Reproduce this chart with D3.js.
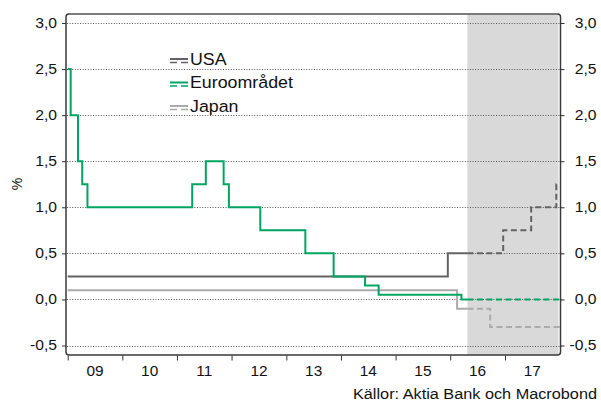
<!DOCTYPE html>
<html>
<head>
<meta charset="utf-8">
<script src="https://cdn.jsdelivr.net/npm/d3@7"></script>
<style>
  html, body { margin: 0; padding: 0; background: #fff; }
  svg { display: block; font-family: "Liberation Sans", Arial, sans-serif; }
</style>
</head>
<body>
<svg id="chart" width="601" height="403"></svg>
<script>
// Policy rates (%), step series: date of each change and the new level
const usaDates   = ["2009-01-01", "2015-12-16", "2016-12-20", "2017-06-25", "2017-12-10"];
const usaValues  = [0.25, 0.5, 0.75, 1.0, 1.25];

const euroDates  = ["2009-01-01", "2009-01-21", "2009-03-11", "2009-04-08", "2009-05-13",
                    "2011-04-13", "2011-07-13", "2011-11-09", "2011-12-14", "2012-07-11",
                    "2013-05-08", "2013-11-13", "2014-06-11", "2014-09-10", "2016-03-16"];
const euroValues = [2.5, 2.0, 1.5, 1.25, 1.0, 1.25, 1.5, 1.25, 1.0, 0.75, 0.5, 0.25, 0.15, 0.05, 0.0];

const japanDates  = ["2009-01-01", "2016-02-16", "2016-09-24"];
const japanValues = [0.1, -0.1, -0.3];

const seriesNames  = ["USA", "Euroområdet", "Japan"];
const seriesColors = ["#636363", "#00a562", "#ababab"];

const forecastStart = "2016-04-25";
const endDate       = "2017-12-31";

const yearTicks  = [2009, 2010, 2011, 2012, 2013, 2014, 2015, 2016, 2017];
const yearLabels = ["09", "10", "11", "12", "13", "14", "15", "16", "17"];
const yTicks     = [-0.5, 0, 0.5, 1.0, 1.5, 2.0, 2.5, 3.0];
const yLabels    = ["-0,5", "0,0", "0,5", "1,0", "1,5", "2,0", "2,5", "3,0"];

const sourceText = "Källor: Aktia Bank och Macrobond";
const unitLabel  = "%";

// ---- layout
const plot = { left: 66, right: 560.5, top: 14, bottom: 355 };
const parse = d3.utcParse("%Y-%m-%d");

const x = d3.scaleUtc()
  .domain([new Date(Date.UTC(2009, 0, 1)), new Date(Date.UTC(2018, 0, 1))])
  .range([67.7, 559.6]);
const y = d3.scaleLinear().domain([-0.5, 3.0]).range([345.5, 23]);

const svg = d3.select("#chart");

// widen text horizontally around its anchor point (x, y attributes)
function widen(sel, k) {
  sel.each(function () {
    const t = d3.select(this);
    const ax = +t.attr("x") || 0, ay = +t.attr("y") || 0;
    const prev = t.attr("transform") || "";
    t.attr("transform", `${prev} translate(${ax},${ay}) scale(${k},1) translate(${-ax},${-ay})`);
  });
}

// forecast shading
const xF = x(parse(forecastStart));
svg.append("rect")
  .attr("x", xF).attr("y", plot.top)
  .attr("width", 558.5 - xF).attr("height", plot.bottom - plot.top)
  .attr("fill", "#d9d9d9");

// dotted gridlines
svg.append("g").selectAll("line").data(yTicks).join("line")
  .attr("x1", plot.left + 1).attr("x2", plot.right + 1)
  .attr("y1", d => Math.round(y(d)) + 0.5).attr("y2", d => Math.round(y(d)) + 0.5)
  .attr("stroke", "#555").attr("stroke-width", 1)
  .attr("stroke-dasharray", "1,1.6");

// split a step series into the historical (solid) and forecast (dashed) parts
function buildSeries(dates, values) {
  const pts = dates.map((d, i) => ({ t: parse(d), v: values[i] }));
  const f = parse(forecastStart), e = parse(endDate);
  const hist = pts.filter(p => p.t < f);
  const lastHist = hist[hist.length - 1].v;
  hist.push({ t: f, v: lastHist });
  const fut = [{ t: f, v: lastHist }].concat(pts.filter(p => p.t >= f));
  fut.push({ t: e, v: fut[fut.length - 1].v });
  return { hist, fut };
}

const line = d3.line()
  .x(d => x(d.t)).y(d => y(d.v))
  .curve(d3.curveStepAfter);

const series = [
  buildSeries(usaDates, usaValues),
  buildSeries(euroDates, euroValues),
  buildSeries(japanDates, japanValues)
];

// draw Japan first, then USA, then euro area on top
[2, 0, 1].forEach(i => {
  const s = series[i];
  svg.append("path").datum(s.hist)
    .attr("d", line).attr("fill", "none")
    .attr("stroke", seriesColors[i]).attr("stroke-width", 2);
  svg.append("path").datum(s.fut)
    .attr("d", line).attr("fill", "none")
    .attr("stroke", seriesColors[i]).attr("stroke-width", 2)
    .attr("stroke-dasharray", "6,3.5");
});

// frame with rounded corners
const r = 3;
svg.append("path")
  .attr("d", `M${plot.left},${plot.top + r} Q${plot.left},${plot.top} ${plot.left + r},${plot.top}
              L${plot.right - r},${plot.top} Q${plot.right},${plot.top} ${plot.right},${plot.top + r}
              L${plot.right},${plot.bottom - r} Q${plot.right},${plot.bottom} ${plot.right - r},${plot.bottom}
              L${plot.left + r},${plot.bottom} Q${plot.left},${plot.bottom} ${plot.left},${plot.bottom - r} Z`)
  .attr("fill", "none").attr("stroke", "#3a3a3a").attr("stroke-width", 1.5);
// lighter top and left edges
svg.append("line")
  .attr("x1", plot.left + r).attr("x2", plot.right - r)
  .attr("y1", plot.top).attr("y2", plot.top)
  .attr("stroke", "#7a7a7a").attr("stroke-width", 2);
svg.append("line")
  .attr("x1", plot.left).attr("x2", plot.left)
  .attr("y1", plot.top + r).attr("y2", plot.bottom - r)
  .attr("stroke", "#6a6a6a").attr("stroke-width", 2);

// left y axis
const yAxisL = d3.axisLeft(y).tickValues(yTicks)
  .tickSize(4).tickPadding(5)
  .tickFormat((d, i) => yLabels[i]);
const gL = svg.append("g").attr("transform", `translate(${plot.left},0)`).call(yAxisL);
gL.select(".domain").remove();
gL.selectAll(".tick line").attr("stroke", "#333");
gL.selectAll(".tick text").attr("font-size", 14).attr("fill", "#111")
  .attr("font-family", "'Liberation Sans', Arial, sans-serif");
widen(gL.selectAll(".tick text"), 1.12);

// right y axis
const yAxisR = d3.axisRight(y).tickValues(yTicks)
  .tickSize(4).tickPadding(0)
  .tickFormat((d, i) => yLabels[i]);
const gR = svg.append("g").attr("transform", `translate(${plot.right},0)`).call(yAxisR);
gR.select(".domain").remove();
gR.selectAll(".tick line").attr("stroke", "#333");
gR.selectAll(".tick text").attr("font-size", 14).attr("fill", "#111")
  .attr("text-anchor", "end").attr("x", 36)
  .attr("font-family", "'Liberation Sans', Arial, sans-serif");
widen(gR.selectAll(".tick text"), 1.12);

// x axis: year ticks with labels centred in each year
const xAxis = d3.axisBottom(x)
  .tickValues(yearTicks.map(yr => new Date(Date.UTC(yr, 0, 1))))
  .tickSize(5).tickFormat("");
const gX = svg.append("g").attr("transform", `translate(0,${plot.bottom + 0.5})`).call(xAxis);
gX.select(".domain").remove();
gX.selectAll(".tick line").attr("stroke", "#333");
const xLab = svg.append("g").selectAll("text").data(yearTicks).join("text")
  .attr("x", d => (x(new Date(Date.UTC(d, 0, 1))) + x(new Date(Date.UTC(d + 1, 0, 1)))) / 2)
  .attr("y", 376.5)
  .attr("text-anchor", "middle")
  .attr("font-size", 14).attr("fill", "#111")
  .text((d, i) => yearLabels[i]);
widen(xLab, 1.1);

// unit label
svg.append("text")
  .attr("transform", "translate(22,184) rotate(-90)")
  .attr("text-anchor", "middle")
  .attr("font-size", 14).attr("fill", "#111")
  .text(unitLabel);

// legend
const legend = svg.append("g");
seriesNames.forEach((name, i) => {
  const base = 65 + i * 23.5;
  legend.append("line")
    .attr("x1", 170).attr("x2", 188).attr("y1", base - 6).attr("y2", base - 6)
    .attr("stroke", seriesColors[i]).attr("stroke-width", 2);
  legend.append("line")
    .attr("x1", 170).attr("x2", 188).attr("y1", base - 2.5).attr("y2", base - 2.5)
    .attr("stroke", seriesColors[i]).attr("stroke-width", 1.5)
    .attr("stroke-dasharray", "7,4");
  const t = legend.append("text")
    .attr("x", 190).attr("y", base)
    .attr("font-size", 16.5).attr("fill", "#111")
    .text(name);
  widen(t, 1.08);
});

// source
const src = svg.append("text")
  .attr("x", 597).attr("y", 399.5)
  .attr("text-anchor", "end")
  .attr("font-size", 15.5).attr("fill", "#111")
  .text(sourceText);
widen(src, 1.05);
</script>
</body>
</html>
